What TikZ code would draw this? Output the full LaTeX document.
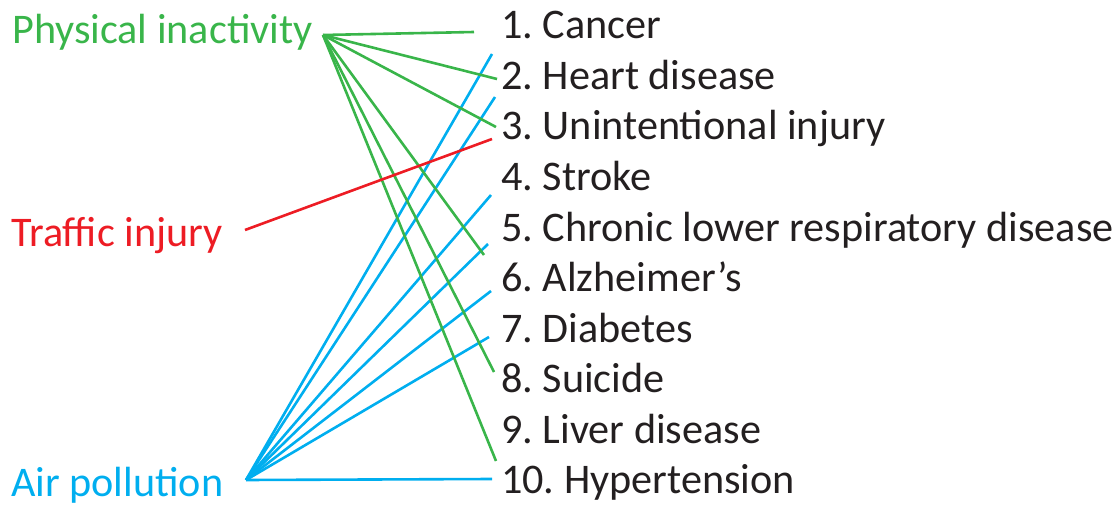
\documentclass[tikz,border=0pt]{standalone}
\usepackage{fontspec}
\setmainfont{Carlito}
\frenchspacing
\definecolor{pgreen}{RGB}{57,181,74}
\definecolor{pred}{RGB}{237,28,36}
\definecolor{pblue}{RGB}{0,174,239}
\definecolor{ptext}{RGB}{35,31,32}
\begin{document}
\begin{tikzpicture}[x=1pt,y=-1pt,
  lbl/.style={anchor=base west,inner sep=0pt,font=\fontsize{42.2}{50}\selectfont\frenchspacing},
  item/.style={lbl,text=ptext},
  gline/.style={draw=pgreen,line width=2.6pt},
  rline/.style={draw=pred,line width=2.6pt},
  bline/.style={draw=pblue,line width=2.6pt}]
\useasboundingbox (0,0) rectangle (1114,508);
% left labels
\node[lbl,text=pgreen] (pi) at (12,44) {Physical inactivity};
\node[lbl,text=pred] (ti) at (11,246) {Traffic injury};
\node[lbl,text=pblue] (ap) at (11,496) {Air pollution};
% right list
\node[item] (d1) at (501,39) {1. Cancer};
\node[item] (d2) at (501,89.5) {2. Heart disease};
\node[item] (d3) at (501,140) {3. Unintentional injury};
\node[item] (d4) at (501,190.5) {4. Stroke};
\node[item] (d5) at (501,241) {5. Chronic lower respiratory disease};
\node[item] (d6) at (501,291.5) {6. Alzheimer’s};
\node[item] (d7) at (501,342) {7. Diabetes};
\node[item] (d8) at (501,392.5) {8. Suicide};
\node[item] (d9) at (501,443) {9. Liver disease};
\node[item] (d10) at (501,493.5) {10. Hypertension};
% hubs
\coordinate (hp) at (323,35);
\coordinate (ht) at (245,230);
\coordinate (ha) at (246,480);
% green ends
\coordinate (g1) at (474,32);
\coordinate (g2) at (497,79);
\coordinate (g3) at (496,127);
\coordinate (g5) at (484,255);
\coordinate (g8) at (494,372);
\coordinate (g10) at (496,461);
% red end
\coordinate (r3) at (492,139);
% blue ends
\coordinate (b1) at (492,54);
\coordinate (b2) at (495,97);
\coordinate (b4) at (491,195);
\coordinate (b5) at (488,244);
\coordinate (b6) at (491,291);
\coordinate (b7) at (489,337);
\coordinate (b10) at (492,479);
\foreach \e in {b1,b2,b4,b5,b6,b7,b10} \draw[bline] (ha) -- (\e);
\foreach \e in {g1,g2,g3,g5,g8,g10} \draw[gline] (hp) -- (\e);
\draw[rline] (ht) -- (r3);
\end{tikzpicture}
\end{document}
